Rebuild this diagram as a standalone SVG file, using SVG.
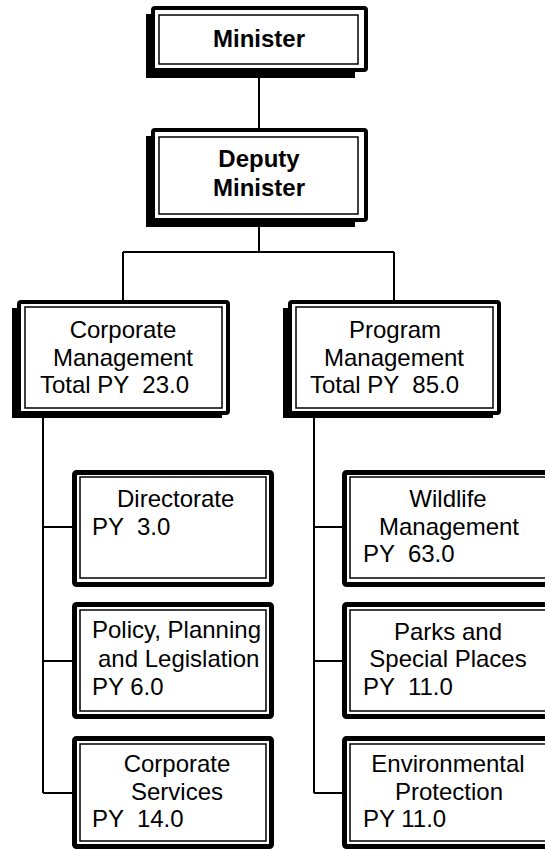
<svg xmlns="http://www.w3.org/2000/svg" width="545" height="850" viewBox="0 0 545 850">
<style>
.bg{fill:#fff}
.sh{fill:#000}
.fr{fill:#fff;stroke:#000;stroke-width:4}
.frc{fill:#fff;stroke:#000;stroke-width:5}
.in{fill:none;stroke:#000;stroke-width:1.5}
.cn{fill:none;stroke:#000;stroke-width:2}
text{font-family:"Liberation Sans",Arial,sans-serif;font-size:24px;fill:#000;white-space:pre}
.b{font-weight:bold}
.m{text-anchor:middle}
</style>
<rect class="bg" x="0" y="0" width="545" height="850"/>
<g id="connectors">
<path class="cn" d="M259,72 V128"/>
<path class="cn" d="M259,222 V252 M123,252 H394 M123,252 V300 M394,252 V300"/>
<path class="cn" d="M43,415 V793 M43,527 H72 M43,661 H72 M43,793 H72"/>
<path class="cn" d="M314,415 V793 M314,527 H342 M314,661 H342 M314,793 H342"/>
</g>
<g id="minister">
<rect class="sh" x="146" y="14" width="209" height="64"/>
<rect class="fr" x="153" y="8" width="213" height="62" rx="2"/>
<rect class="in" x="159" y="15" width="199" height="49"/>
<text class="b m" x="259" y="47">Minister</text>
</g>
<g id="deputy">
<rect class="sh" x="146" y="136" width="209" height="91"/>
<rect class="fr" x="153" y="130" width="213" height="90" rx="2"/>
<rect class="in" x="159" y="137" width="199" height="77"/>
<text class="b m" x="259" y="167">Deputy</text>
<text class="b m" x="259" y="196">Minister</text>
</g>
<g id="corporate-management">
<rect class="sh" x="12" y="308" width="210" height="110"/>
<rect class="fr" x="19" y="302" width="209" height="111" rx="2"/>
<rect class="in" x="25" y="307" width="197" height="101"/>
<text class="m" x="123" y="338">Corporate</text>
<text class="m" x="123" y="366">Management</text>
<text x="40" y="393">Total PY  23.0</text>
</g>
<g id="program-management">
<rect class="sh" x="283" y="308" width="210" height="110"/>
<rect class="fr" x="290" y="302" width="209" height="111" rx="2"/>
<rect class="in" x="296" y="307" width="197" height="101"/>
<text class="m" x="395" y="338">Program</text>
<text class="m" x="394" y="366">Management</text>
<text x="310" y="393">Total PY  85.0</text>
</g>
<g id="directorate">
<rect class="frc" x="74.5" y="472.5" width="197" height="112" rx="2"/>
<rect class="in" x="80" y="477" width="186" height="101"/>
<text x="117" y="507">Directorate</text>
<text x="92" y="535">PY  3.0</text>
</g>
<g id="policy">
<rect class="frc" x="74.5" y="604.5" width="197" height="112" rx="2"/>
<rect class="in" x="80" y="610" width="186" height="101"/>
<text x="92" y="638">Policy, Planning</text>
<text x="98" y="667">and Legislation</text>
<text x="92" y="695">PY 6.0</text>
</g>
<g id="corporate-services">
<rect class="frc" x="74.5" y="738.5" width="197" height="108" rx="2"/>
<rect class="in" x="80" y="744" width="186" height="97"/>
<text class="m" x="177" y="772">Corporate</text>
<text class="m" x="177" y="800">Services</text>
<text x="92" y="827">PY  14.0</text>
</g>
<g id="wildlife">
<rect class="frc" x="344.5" y="472.5" width="215" height="112" rx="2"/>
<rect class="in" x="350" y="477" width="204" height="101"/>
<text class="m" x="448" y="507">Wildlife</text>
<text class="m" x="449" y="535">Management</text>
<text x="363" y="562">PY  63.0</text>
</g>
<g id="parks">
<rect class="frc" x="344.5" y="604.5" width="215" height="112" rx="2"/>
<rect class="in" x="350" y="610" width="204" height="101"/>
<text class="m" x="448" y="640">Parks and</text>
<text class="m" x="448" y="667">Special Places</text>
<text x="363" y="695">PY  11.0</text>
</g>
<g id="environmental">
<rect class="frc" x="344.5" y="738.5" width="215" height="108" rx="2"/>
<rect class="in" x="350" y="744" width="204" height="97"/>
<text class="m" x="448" y="772">Environmental</text>
<text class="m" x="449" y="800">Protection</text>
<text x="363" y="827">PY 11.0</text>
</g>
</svg>
